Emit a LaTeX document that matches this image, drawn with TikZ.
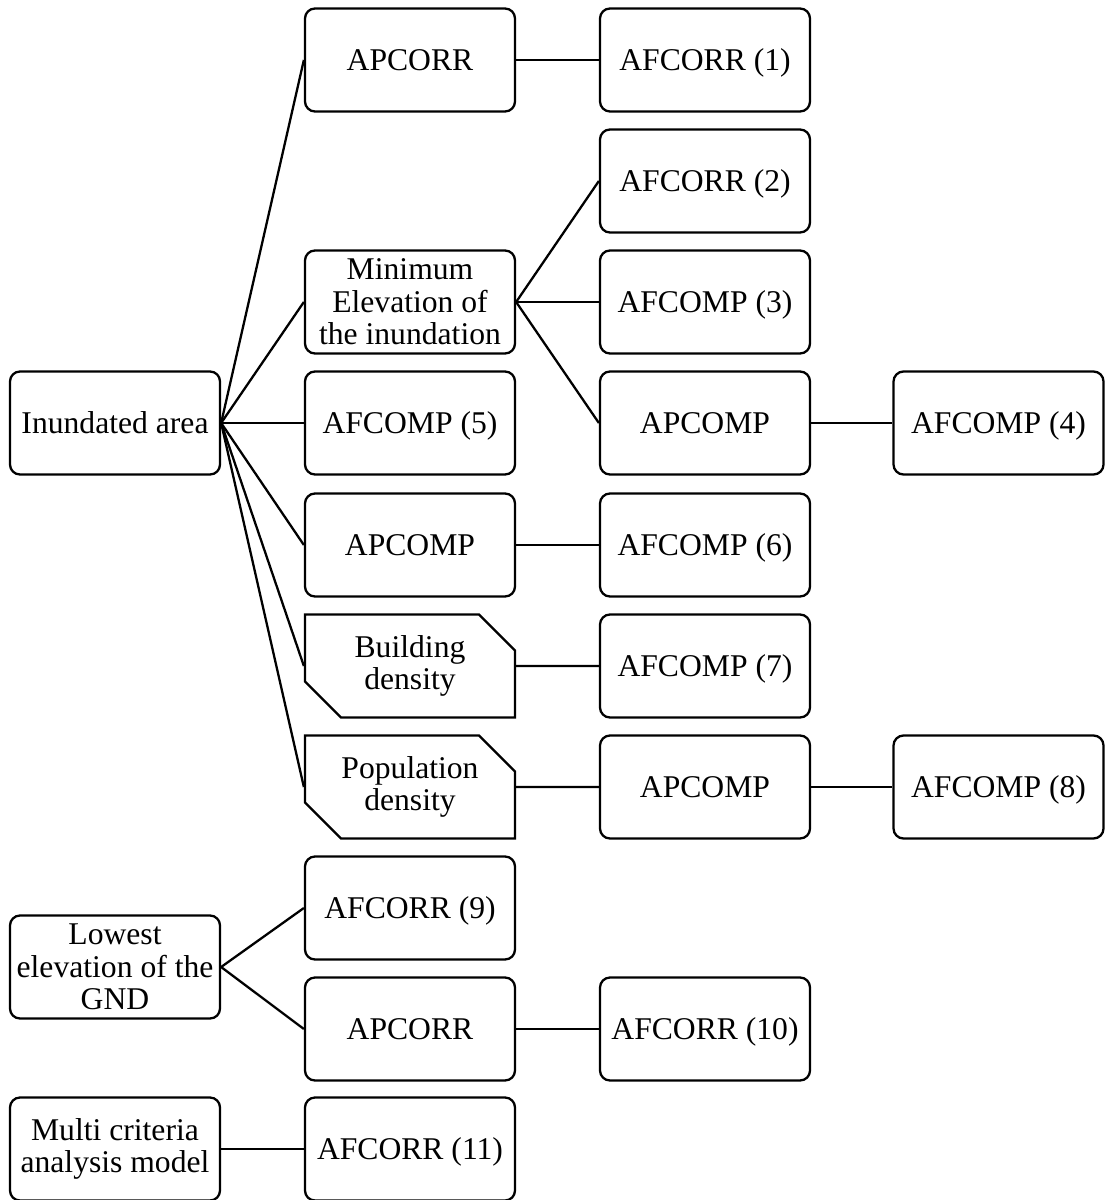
\documentclass[tikz,border=0pt]{standalone}
\usepackage{fontspec}
\setmainfont{Liberation Serif}
\usetikzlibrary{shapes.misc}

\begin{document}
\begin{tikzpicture}[line width=1.3pt]
\tikzstyle{box}=[draw,rounded corners=0.2cm,minimum width=4.2cm,minimum height=2.06cm,inner sep=1pt,align=center,font=\fontsize{18}{18.5}\selectfont,text height=12pt,text depth=0pt]
\tikzstyle{wrap}=[text height=,text depth=]
\tikzstyle{card}=[box,wrap,rounded corners=0pt,chamfered rectangle,chamfered rectangle corners={north east,south west},chamfered rectangle sep=0.36cm]
\tikzstyle{link}=[draw]

\useasboundingbox (0,0) rectangle (22.08,-24);

% first column
\node[box] (inund) at (2.3,-8.46) {Inundated area};
\node[box,wrap] (lowest) at (2.3,-19.34) {Lowest\\elevation of the\\GND};
\node[box,wrap] (multi) at (2.3,-22.98) {Multi criteria\\analysis model};

% second column
\node[box] (apcorr1) at (8.2,-1.2) {APCORR};
\node[box,wrap] (minelev) at (8.2,-6.04) {Minimum\\Elevation of\\the inundation};
\node[box] (afcomp5) at (8.2,-8.46) {AFCOMP (5)};
\node[box] (apcomp6) at (8.2,-10.9) {APCOMP};
\node[card] (build) at (8.2,-13.32) {Building\\density};
\node[card] (popul) at (8.2,-15.74) {Population\\density};
\node[box] (afcorr9) at (8.2,-18.16) {AFCORR (9)};
\node[box] (apcorr10) at (8.2,-20.58) {APCORR};
\node[box] (afcorr11) at (8.2,-22.98) {AFCORR (11)};

% third column
\node[box] (afcorr1) at (14.1,-1.2) {AFCORR (1)};
\node[box] (afcorr2) at (14.1,-3.62) {AFCORR (2)};
\node[box] (afcomp3) at (14.1,-6.04) {AFCOMP (3)};
\node[box] (apcomp4) at (14.1,-8.46) {APCOMP};
\node[box] (afcomp6) at (14.1,-10.9) {AFCOMP (6)};
\node[box] (afcomp7) at (14.1,-13.32) {AFCOMP (7)};
\node[box] (apcomp8) at (14.1,-15.74) {APCOMP};
\node[box] (afcorr10) at (14.1,-20.58) {AFCORR (10)};

% fourth column
\node[box] (afcomp4) at (19.97,-8.46) {AFCOMP (4)};
\node[box] (afcomp8) at (19.97,-15.74) {AFCOMP (8)};

\path (inund.east) edge[link] (apcorr1.west);
\path (inund.east) edge[link] (minelev.west);
\path (inund.east) edge[link] (afcomp5.west);
\path (inund.east) edge[link] (apcomp6.west);
\path (inund.east) edge[link] (build.west);
\path (inund.east) edge[link] (popul.west);
\path (minelev.east) edge[link] (afcorr2.west);
\path (minelev.east) edge[link] (afcomp3.west);
\path (minelev.east) edge[link] (apcomp4.west);
\path (apcorr1) edge[link] (afcorr1);
\path (apcomp4) edge[link] (afcomp4);
\path (apcomp6) edge[link] (afcomp6);
\path (build) edge[link] (afcomp7);
\path (popul) edge[link] (apcomp8);
\path (apcomp8) edge[link] (afcomp8);
\path (lowest.east) edge[link] (afcorr9.west);
\path (lowest.east) edge[link] (apcorr10.west);
\path (apcorr10) edge[link] (afcorr10);
\path (multi) edge[link] (afcorr11);
\end{tikzpicture}
\end{document}
